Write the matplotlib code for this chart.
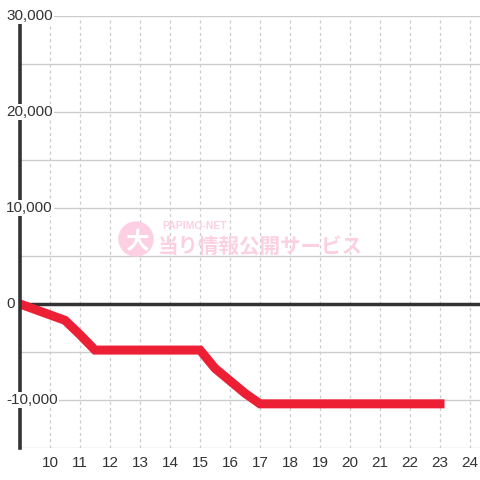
import numpy as np
import matplotlib.pyplot as plt
from matplotlib.patches import Circle

# data
hours = [9, 10.5, 11, 11.5, 15, 15.5, 16, 16.5, 17, 23]
balance = [0, -1700, -3200, -4800, -4800, -6700, -8000, -9300, -10400, -10400]
x_ticks = list(range(10, 25))
y_ticks = [-10000, 0, 10000, 20000, 30000]
y_grid = list(range(-15000, 30001, 5000))

txt_col = '#333333'
grid_col = '#cccccc'
plt.rcParams['font.family'] = ['Liberation Sans', 'DejaVu Sans']

fig = plt.figure(figsize=(4.8, 4.8), dpi=100)
ax = fig.add_axes([20/480, 32/480, 460/480, 432/480])
ax.set_xlim(9, 9 + 460/30)
ax.set_ylim(-15000, 30000)

for y in y_grid:
    ax.axhline(y, color=grid_col, lw=1, zorder=1)
for x in x_ticks:
    ax.axvline(x, color=grid_col, lw=0.9, ls=(0, (2.5, 2.5)), zorder=1)

# watermark
pink = '#fcd0e2'
fig.patches.append(Circle((136/480, 1-239/480), 17/480, transform=fig.transFigure,
                          color=pink, zorder=2))
fig.text(137/480, 1-242/480, '大', color='white', fontsize=17, fontweight='bold',
         family=['Noto Sans CJK JP', 'DejaVu Sans'], ha='center', va='center', zorder=3)
fig.text(162/480, 1-226/480, 'PAPIMO-NET', color=pink, fontsize=7.5, fontweight='bold',
         ha='left', va='center')
fig.text(158/480, 1-246/480, '当り情報公開サービス', color=pink, fontsize=14.8, fontweight='bold',
         family=['Noto Sans CJK JP', 'DejaVu Sans'], ha='left', va='center')

ax.axhline(0, color=txt_col, lw=2.5, zorder=3)
ax.plot(hours, balance, color='#ec1f35', lw=6.5, solid_joinstyle='miter',
        solid_capstyle='projecting', zorder=4)

for s in ['top', 'right', 'bottom']:
    ax.spines[s].set_visible(False)
ax.spines['left'].set_color(txt_col)
ax.spines['left'].set_linewidth(2.6)
ax.spines['left'].set_zorder(5)

ax.set_yticks([])
ax.set_xticks(x_ticks)
ax.tick_params(axis='x', length=0, pad=6, labelsize=11, labelcolor=txt_col)

for y in y_ticks:
    ax.text(-14/460, y, '{:,}'.format(y), transform=ax.get_yaxis_transform(),
            ha='left', va='center', fontsize=11, color=txt_col, clip_on=False, zorder=6,
            bbox=dict(facecolor='white', edgecolor='none', pad=1))

fig.savefig('out.png', dpi=100)
